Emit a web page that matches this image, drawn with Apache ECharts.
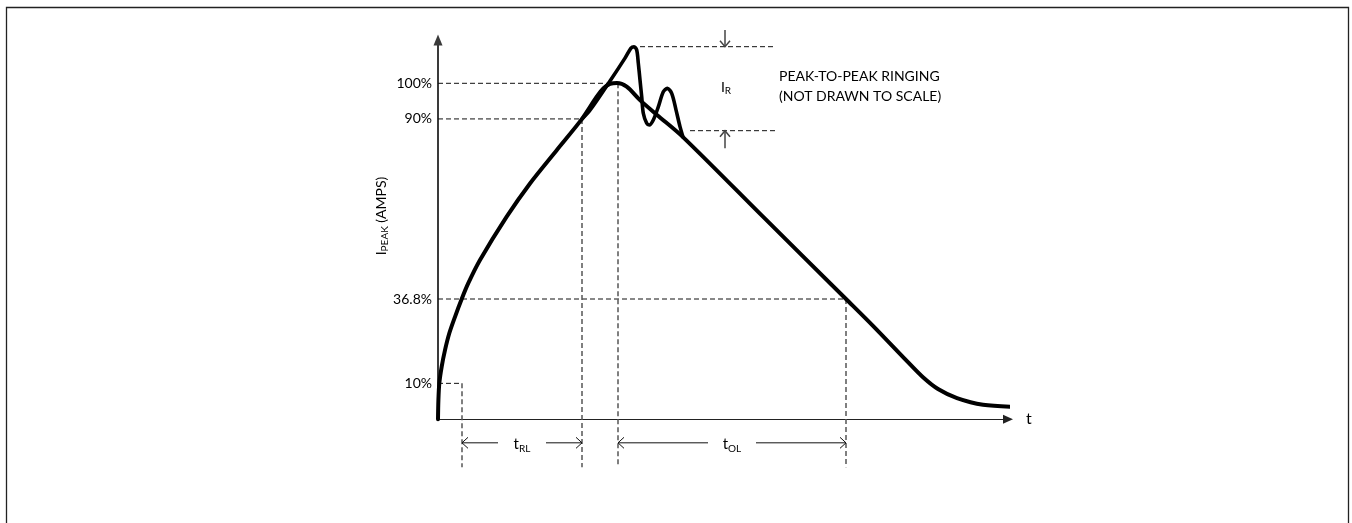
<!DOCTYPE html>
<html><head><meta charset="utf-8">
<script src="https://cdn.jsdelivr.net/npm/echarts@6/dist/echarts.min.js"></script>
<style>html,body{margin:0;padding:0;background:#fff}#c{width:1352px;height:523px}</style>
</head><body><div id="c"></div>
<script>
// ---- data (time in arbitrary units, current in % of peak level as drawn) ----
const mainT = [0, 0.4, 1.3, 3.7, 7, 11.3, 17, 23.7, 30.3, 42, 68.7, 92, 118.7, 144, 158.7, 165.3, 172, 179, 188.7, 202, 219, 245, 326, 408, 435, 469, 485, 500, 519, 545, 577];
const mainI = [0, 5.7, 10.7, 15.7, 20.6, 25.6, 30.5, 35.8, 40.5, 47.4, 60.3, 70.2, 80.1, 89.4, 96.0, 98.5, 99.8, 100.1, 99.0, 95.0, 90.6, 84.0, 60.0, 35.8, 27.8, 17.3, 12.5, 9.0, 6.3, 4.3, 3.7];
const ringT = [144, 152, 172, 187, 193, 196, 198.7, 200.3, 202, 203.7, 205.3, 208.7, 211.3, 215.3, 220.3, 225.3, 229.3, 233.7, 238, 242, 245];
const ringI = [89.4, 92.0, 100.7, 107.5, 110.5, 110.9, 109.9, 106.0, 101.0, 96.0, 91.1, 88.1, 87.6, 89.1, 93.0, 97.5, 98.5, 97.0, 92.1, 87.1, 84.0];

const levelLabels = ['10%', '36.8%', '90%', '100%'];
const levelValues = [10.7, 35.8, 89.4, 100];
const guideT = [24, 408, 144, 180];      // where each level's guide drops to the time axis
const dropLevel = -14.3;                  // bottom end of the vertical guides

const spanStart = [24, 180];
const spanEnd = [144, 408];
const spanSubs = ['RL', 'OL'];
const spanLevel = -7.0;

const ringLevels = [110.9, 85.9];
const ringLineStart = [202, 252];
const ringLineEnd = 337;
const ringArrowT = 287;
const ringArrowFrom = [115.9, 80.7];
const ringLabelPos = [288, 98.9];

const FONT = 'Lato, "Liberation Sans", sans-serif';

const chart = echarts.init(document.getElementById('c'), null, {renderer: 'canvas'});

const series = [];
const hStyle = {color: '#111', width: 1, type: [5, 3]};
const vStyle = {color: '#555', width: 1.5, type: [5, 3]};
levelValues.forEach((v, i) => {
  series.push({type: 'line', silent: true, symbol: 'none', z: 2, clip: false,
    data: [[0, v], [guideT[i], v]], lineStyle: hStyle});
  series.push({type: 'line', silent: true, symbol: 'none', z: 2, clip: false,
    data: [[guideT[i], v], [guideT[i], dropLevel]], lineStyle: vStyle});
});
ringLevels.forEach((v, i) => {
  series.push({type: 'line', silent: true, symbol: 'none', z: 2, clip: false,
    data: [[ringLineStart[i], v], [ringLineEnd, v]], lineStyle: hStyle});
});

series.push({type: 'line', silent: true, symbol: 'none', z: 5, clip: false, smooth: 0.3,
  data: mainT.map((t, i) => [t, mainI[i]]),
  lineStyle: {color: '#000', width: 4, cap: 'round', join: 'round'}});
series.push({type: 'line', silent: true, symbol: 'none', z: 5, clip: false, smooth: 0.3,
  data: ringT.map((t, i) => [t, ringI[i]]),
  lineStyle: {color: '#000', width: 3.6, cap: 'round', join: 'round'}});

const subRich = {
  m: {fontSize: 15, lineHeight: 20, fontFamily: FONT, fill: '#000'},
  s: {fontSize: 10, lineHeight: 11, verticalAlign: 'bottom', fontFamily: FONT, fill: '#000'}
};

// dimension spans (t_RL, t_OL)
series.push({type: 'custom', silent: true, z: 4, clip: false,
  data: spanStart.map((s, i) => [s, spanEnd[i], spanLevel]),
  renderItem: (params, api) => {
    const i = params.dataIndex;
    const a = api.coord([api.value(0), api.value(2)]);
    const b = api.coord([api.value(1), api.value(2)]);
    const y = a[1], mid = (a[0] + b[0]) / 2, gap = 24;
    const st = {stroke: '#111', lineWidth: 1, fill: null};
    return {type: 'group', children: [
      {type: 'line', shape: {x1: a[0], y1: y, x2: mid - gap, y2: y}, style: st},
      {type: 'line', shape: {x1: mid + gap, y1: y, x2: b[0], y2: y}, style: st},
      {type: 'polyline', shape: {points: [[a[0] + 6, y - 5.5], [a[0], y], [a[0] + 6, y + 5.5]]}, style: st},
      {type: 'polyline', shape: {points: [[b[0] - 6, y - 5.5], [b[0], y], [b[0] - 6, y + 5.5]]}, style: st},
      {type: 'text', x: mid, y: y + 1, style: {text: '{m|t}{s|' + spanSubs[i] + '}', rich: subRich,
        align: 'center', verticalAlign: 'middle'}}
    ]};
  }
});

// peak-to-peak ringing arrows
series.push({type: 'custom', silent: true, z: 4, clip: false,
  data: ringArrowFrom.map((f, i) => [ringArrowT, f, ringLevels[i]]),
  renderItem: (params, api) => {
    const p = api.coord([api.value(0), api.value(1)]);
    const q = api.coord([api.value(0), api.value(2)]);
    const d = q[1] > p[1] ? -1 : 1;
    const st = {stroke: '#444', lineWidth: 1.5, fill: null};
    return {type: 'group', children: [
      {type: 'line', shape: {x1: p[0], y1: p[1], x2: q[0], y2: q[1]}, style: st},
      {type: 'polyline', shape: {points: [[q[0] - 5, q[1] + d * 6], [q[0], q[1]], [q[0] + 5, q[1] + d * 6]]}, style: st}
    ]};
  }
});
series.push({type: 'custom', silent: true, z: 4, clip: false,
  data: [ringLabelPos],
  renderItem: (params, api) => {
    const p = api.coord([api.value(0), api.value(1)]);
    return {type: 'text', x: p[0], y: p[1], style: {text: '{m|I}{s|R}', rich: {
      m: {fontSize: 14, lineHeight: 18, fontFamily: FONT, fill: '#000'},
      s: {fontSize: 10, lineHeight: 11, verticalAlign: 'bottom', fontFamily: FONT, fill: '#000'}},
      align: 'center', verticalAlign: 'middle'}};
  }
});

chart.setOption({
  animation: false,
  backgroundColor: '#fff',
  grid: {left: 438, right: 344, top: 40, bottom: 103.7, outerBoundsMode: 'none', containLabel: false},
  xAxis: {type: 'value', min: 0, max: 570,
    axisLine: {show: true, symbol: ['none', 'triangle'], symbolSize: [9, 10], lineStyle: {color: '#222', width: 1.2}},
    axisTick: {show: false}, axisLabel: {show: false}, splitLine: {show: false},
    name: 't', nameLocation: 'end', nameGap: 18,
    nameTextStyle: {fontSize: 16, color: '#000', fontFamily: FONT, verticalAlign: 'middle'}},
  yAxis: {type: 'value', min: 0, max: 112.89,
    axisLine: {show: true, onZero: false, symbol: ['none', 'triangle'], symbolSize: [9, 11], lineStyle: {color: '#3a3a3a', width: 2}},
    axisTick: {show: false}, splitLine: {show: false},
    axisLabel: {customValues: levelValues, margin: 6, fontSize: 14, color: '#000', fontFamily: FONT,
      formatter: v => {
        let k = 0;
        levelValues.forEach((lv, i) => { if (Math.abs(lv - v) < Math.abs(levelValues[k] - v)) k = i; });
        return levelLabels[k];
      }}},
  graphic: [
    {type: 'rect', silent: true, shape: {x: 6.5, y: 7.5, width: 1342, height: 540},
      style: {fill: null, stroke: '#222', lineWidth: 1.3}},
    {type: 'text', silent: true, x: 381, y: 216, rotation: Math.PI / 2,
      style: {text: '{m|I}{s|PEAK}{m| (AMPS)}', align: 'center', verticalAlign: 'middle', rich: {
        m: {fontSize: 14, lineHeight: 18, fontFamily: FONT, fill: '#000'},
        s: {fontSize: 10, lineHeight: 11, verticalAlign: 'bottom', fontFamily: FONT, fill: '#000'}}}},
    {type: 'text', silent: true, x: 779, y: 76,
      style: {text: 'PEAK-TO-PEAK RINGING\n(NOT DRAWN TO SCALE)', fontSize: 14, lineHeight: 20,
        fontFamily: FONT, fill: '#000', align: 'left', verticalAlign: 'top', y: -10}}
  ],
  series: series
});
</script></body></html>
